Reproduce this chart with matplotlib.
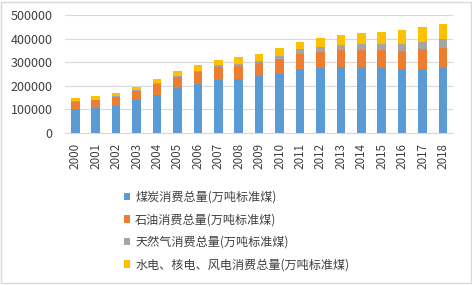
import matplotlib
matplotlib.use("Agg")
import matplotlib.pyplot as plt
import matplotlib.patches as mpatches
import numpy as np

plt.rcParams['font.family'] = ['Noto Sans CJK SC', 'DejaVu Sans']

years = ['2000', '2001', '2002', '2003', '2004', '2005', '2006', '2007', '2008', '2009',
         '2010', '2011', '2012', '2013', '2014', '2015', '2016', '2017', '2018']

# 万吨标准煤
coal = [100670, 105771, 116160, 138352, 161657, 189231, 207402, 225795, 229237, 240666,
        249568, 271704, 275465, 280999, 279329, 273849, 270206, 271196, 273760]
oil = [32332, 32616, 35560, 39618, 45825, 46524, 50132, 52945, 53542, 55125,
       62753, 65023, 68363, 71292, 74090, 78673, 79788, 84412, 87696]
gas = [3233, 3733, 3900, 4533, 5066, 6273, 7162, 9343, 10900, 11764,
       14425, 17803, 19302, 22096, 24270, 25364, 27888, 31430, 36192]
elec = [10729, 13378, 13905, 14386, 17730, 19341, 21771, 23359, 26932, 28571,
        33902, 32513, 39008, 42526, 48117, 52019, 57937, 61962, 66352]

labels = ['煤炭消费总量(万吨标准煤)', '石油消费总量(万吨标准煤)',
          '天然气消费总量(万吨标准煤)', '水电、核电、风电消费总量(万吨标准煤)']
colors = ['#5B9BD5', '#ED7D31', '#A5A5A5', '#FFC000']

fig = plt.figure(figsize=(4.72, 2.85), dpi=100)
fig.patches.append(mpatches.Rectangle((0.003, 0.006), 0.994, 0.988, transform=fig.transFigure,
                                      fill=False, edgecolor='#D9D9D9', linewidth=1))
ax = fig.add_axes([0.138, 0.533, 0.822, 0.414])

x = np.arange(len(years))
bottom = np.zeros(len(years))
handles = []
for vals, col, lab in zip([coal, oil, gas, elec], colors, labels):
    b = ax.bar(x, vals, width=0.42, bottom=bottom, color=col, label=lab, zorder=3)
    bottom += np.array(vals)
    handles.append(b)

ax.set_xlim(-0.5, len(years) - 0.5)
ax.set_ylim(0, 500000)
ax.set_yticks(np.arange(0, 500001, 100000))
ax.set_yticklabels([str(v) for v in range(0, 500001, 100000)], fontsize=9, color='#404040')
ax.set_xticks(x)
ax.set_xticklabels(years, rotation=90, fontsize=8.4, color='#404040')
ax.tick_params(axis='y', length=0, pad=9)
ax.tick_params(axis='x', length=0, pad=7)
ax.grid(axis='y', color='#D9D9D9', linewidth=0.8, zorder=0)
for s in ['top', 'right', 'left']:
    ax.spines[s].set_visible(False)
ax.spines['bottom'].set_color('#D9D9D9')

fig.legend(handles=handles, labels=labels, loc='upper left', bbox_to_anchor=(0.262, 0.33),
           frameon=False, fontsize=8.7, handlelength=0.55, handleheight=0.55, handletextpad=0.4,
           labelspacing=0.78, borderaxespad=0, borderpad=0, labelcolor='#404040')

fig.savefig('out.png', dpi=100)
